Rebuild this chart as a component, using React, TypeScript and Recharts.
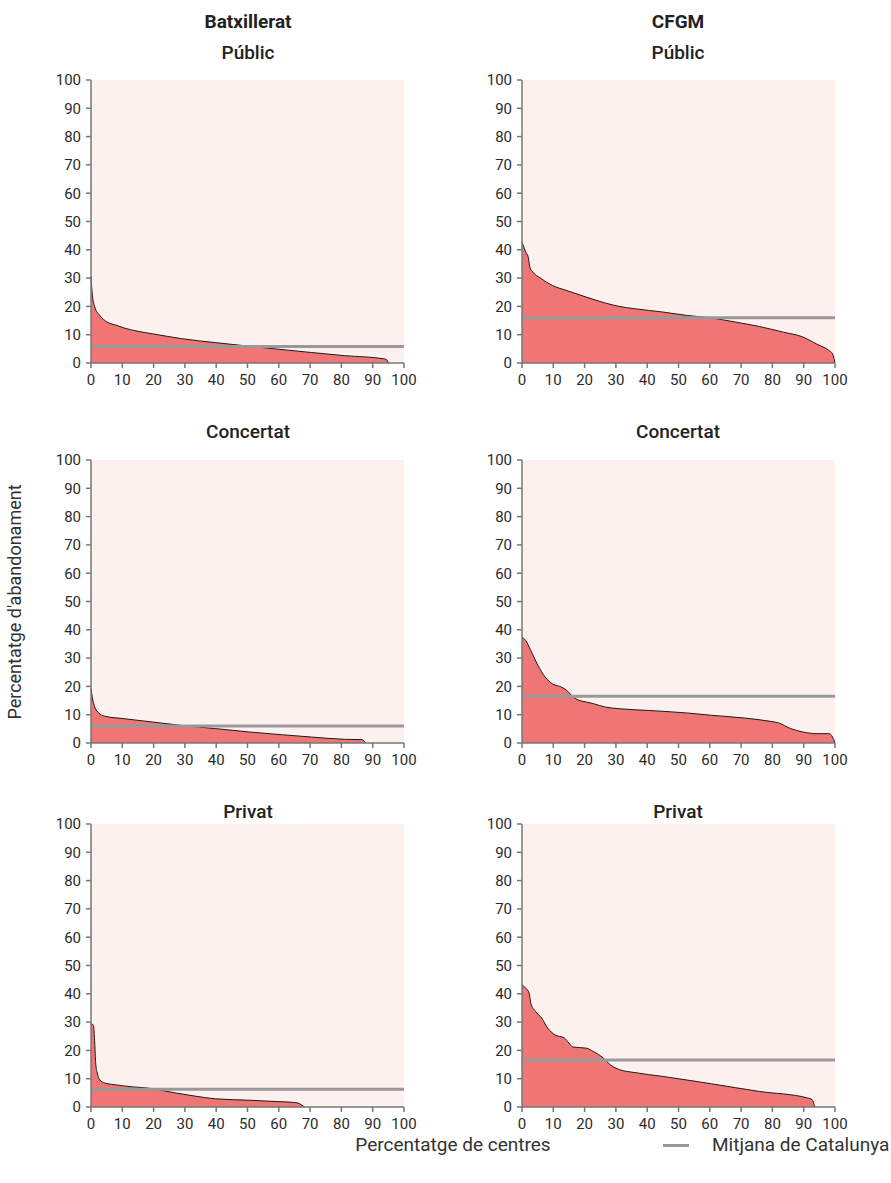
import React from "react"
import { AreaChart, Area, XAxis, YAxis, CartesianGrid, ReferenceLine } from "recharts"

// Distribució de l'abandonament per centre (x: % de centres, y: % d'abandonament)
const batPublicX = [0, 0.3, 1.2, 2.8, 5.1, 8.2, 10.5, 15, 19.7, 29, 39.7, 50, 59.7, 70.5, 81, 93.5, 94.6, 95]
const batPublicY = [30.6, 25.6, 19.8, 16.8, 14.5, 13.3, 12.4, 11.2, 10.3, 8.6, 7.2, 6.0, 4.9, 3.7, 2.6, 1.5, 1.0, 0]

const cfgmPublicX = [0, 1.2, 2, 2.5, 3.5, 5.8, 9.7, 14.3, 20.5, 26.6, 31, 35.8, 45, 52.8, 60.5, 68, 75.8, 83.5, 89.7, 94.3, 98, 99.2, 100]
const cfgmPublicY = [42.7, 39.2, 37.4, 33.9, 32.1, 30.1, 27.4, 25.6, 23.3, 21.2, 20, 19.2, 18, 16.8, 15.9, 14.5, 12.9, 10.9, 9.2, 6.6, 4.5, 3.3, 0]

const batConcertatX = [0, 0.5, 1.2, 2.5, 4.3, 10.5, 19.7, 29, 39.7, 50.5, 61.2, 70.5, 81, 86.6, 87.7]
const batConcertatY = [19.2, 15.6, 12.7, 10.6, 9.5, 8.6, 7.4, 6.2, 5.1, 3.9, 2.9, 2.1, 1.3, 1.2, 0]

const cfgmConcertatX = [0, 1.2, 2.8, 5.1, 7.4, 9.7, 12, 14.3, 15.8, 18.2, 20.5, 22.8, 26.6, 31.2, 40.5, 52.8, 60.5, 71.2, 79.7, 82, 85.8, 89.7, 94.3, 98.2, 99.2, 100]
const cfgmConcertatY = [37.4, 36.2, 32.7, 27.4, 23.3, 20.9, 20, 18.6, 16.8, 15.1, 14.5, 13.9, 12.7, 12.1, 11.5, 10.6, 9.8, 8.8, 7.6, 7.1, 5.1, 3.9, 3.3, 3.3, 2.1, 0]

const batPrivatX = [0, 0.8, 1.2, 1.5, 2, 2.8, 4.3, 7.4, 13.5, 19.7, 24.3, 27.4, 33.5, 39.7, 50.5, 59.7, 65, 66.6, 68.2]
const batPrivatY = [29.6, 28.7, 22.6, 15.5, 12, 9.6, 8.5, 7.9, 7.1, 6.5, 5.5, 4.9, 3.8, 2.9, 2.4, 1.9, 1.6, 1.2, 0]

const cfgmPrivatX = [0, 1.2, 2.3, 2.8, 4.3, 6.3, 8.2, 10.5, 13.5, 15, 16.2, 20.5, 22.8, 26, 28.2, 31.2, 35.8, 45, 60.5, 75.8, 91.2, 92.7, 93.5]
const cfgmPrivatY = [43.2, 42, 40.2, 36.7, 33.8, 31.4, 27.9, 25.5, 24.4, 22.6, 21.2, 20.8, 19.6, 17.3, 14.9, 13.2, 12.2, 10.8, 8.2, 5.5, 3.2, 2.6, 0]

// Mitjana de Catalunya per panell
const batMeans = [5.8, 6.0, 6.3]
const cfgmMeans = [16.0, 16.5, 16.6]

const ticks = [0, 10, 20, 30, 40, 50, 60, 70, 80, 90, 100]

const FONT = "Roboto, sans-serif"
const tickStyle = { fontSize: 15, fill: "#2b2b2b", fontFamily: FONT }

function Panel({ xs, ys, mean, left, top }: { xs: number[]; ys: number[]; mean: number; left: number; top: number }) {
  const data = xs.map((x, i) => ({ x, y: ys[i] }))
  return (
    <div style={{ position: "absolute", left, top }}>
      <AreaChart width={375} height={323} data={data} margin={{ top: 10, right: 22, bottom: 0, left: 0 }}>
        <CartesianGrid horizontal={false} vertical={false} fill="#fcf1ef" />
        <XAxis
          type="number"
          dataKey="x"
          domain={[0, 100]}
          ticks={ticks}
          interval={0}
          height={30}
          tickSize={5}
          tickMargin={6}
          stroke="#777"
          strokeWidth={1.5}
          tick={tickStyle}
        />
        <YAxis
          type="number"
          domain={[0, 100]}
          ticks={ticks}
          interval={0}
          width={40}
          tickSize={5}
          tickMargin={5}
          stroke="#777"
          strokeWidth={1.5}
          tick={tickStyle}
        />
        <Area type="monotone" dataKey="y" stroke="#1a1a1a" strokeWidth={1} fill="#f07676" fillOpacity={1} isAnimationActive={false} dot={false} activeDot={false} />
        <ReferenceLine y={mean} stroke="#999" strokeWidth={3} />
      </AreaChart>
    </div>
  )
}

const title = (text: string, x: number, y: number, bold = false) => (
  <div
    style={{
      position: "absolute",
      left: x - 100,
      top: y - 12,
      width: 200,
      textAlign: "center",
      fontSize: 19,
      lineHeight: "24px",
      fontWeight: bold ? 700 : 500,
      color: "#222",
    }}
  >
    {text}
  </div>
)

export default function App() {
  return (
    <div style={{ position: "absolute", left: 0, top: 0, width: 891, height: 1183, background: "#fff", fontFamily: FONT }}>
      {title("Batxillerat", 248, 22, true)}
      {title("Públic", 248, 53)}
      {title("CFGM", 678, 22, true)}
      {title("Públic", 678, 53)}
      {title("Concertat", 248, 432)}
      {title("Concertat", 678, 432)}
      {title("Privat", 248, 812)}
      {title("Privat", 678, 812)}

      <Panel xs={batPublicX} ys={batPublicY} mean={batMeans[0]} left={51} top={70} />
      <Panel xs={cfgmPublicX} ys={cfgmPublicY} mean={cfgmMeans[0]} left={482} top={70} />
      <Panel xs={batConcertatX} ys={batConcertatY} mean={batMeans[1]} left={51} top={450} />
      <Panel xs={cfgmConcertatX} ys={cfgmConcertatY} mean={cfgmMeans[1]} left={482} top={450} />
      <Panel xs={batPrivatX} ys={batPrivatY} mean={batMeans[2]} left={51} top={814} />
      <Panel xs={cfgmPrivatX} ys={cfgmPrivatY} mean={cfgmMeans[2]} left={482} top={814} />

      <div
        style={{
          position: "absolute",
          left: 15 - 150,
          top: 602 - 11,
          width: 300,
          height: 22,
          lineHeight: "22px",
          textAlign: "center",
          fontSize: 18,
          color: "#333",
          transform: "rotate(-90deg)",
        }}
      >
        Percentatge d'abandonament
      </div>

      <div style={{ position: "absolute", left: 453 - 130, top: 1134, width: 260, textAlign: "center", fontSize: 19, lineHeight: "22px", color: "#333" }}>
        Percentatge de centres
      </div>
      <div style={{ position: "absolute", left: 663, top: 1144, width: 26, height: 3, background: "#999" }} />
      <div style={{ position: "absolute", left: 712, top: 1134, fontSize: 19, lineHeight: "22px", color: "#333", whiteSpace: "nowrap" }}>
        Mitjana de Catalunya
      </div>
    </div>
  )
}
